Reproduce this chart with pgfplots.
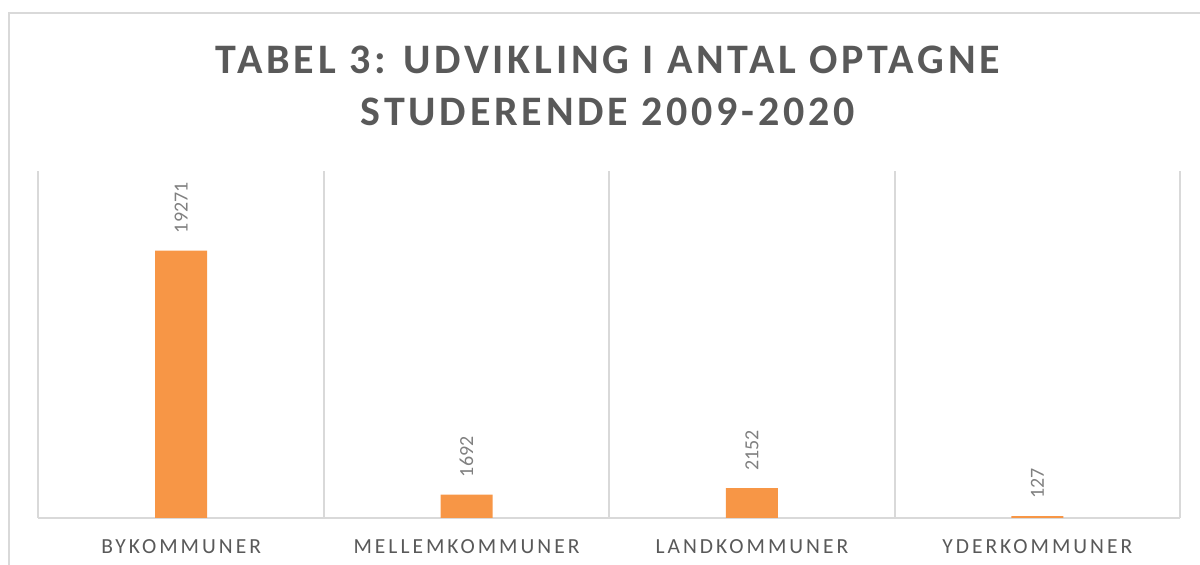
\documentclass[border=0pt]{standalone}
\usepackage{fontspec}
\setmainfont{Carlito}
\newfontfamily\titlefont[LetterSpace=9]{Carlito}
\newfontfamily\catfont[LetterSpace=14]{Carlito}
\usepackage{pgfplots}
\pgfplotsset{compat=1.18}
\definecolor{barc}{HTML}{F79646}
\definecolor{gridc}{HTML}{D9D9D9}
\definecolor{txt}{HTML}{595959}
\definecolor{lbl}{HTML}{808080}
\begin{document}
\begin{tikzpicture}[x=1pt,y=1pt]
\useasboundingbox (0,0) rectangle (600,282.5);
\draw[gridc, line width=1pt] (4.5,-5) -- (4.5,276) -- (605,276);
\node[anchor=base, text=txt, font=\titlefont\bfseries\fontsize{21}{25}\selectfont, inner sep=0pt] at (304,245.5) {TABEL 3: UDVIKLING I ANTAL OPTAGNE};
\node[anchor=base, text=txt, font=\titlefont\bfseries\fontsize{21}{25}\selectfont, inner sep=0pt] at (304,219.5) {STUDERENDE 2009-2020};
\begin{axis}[
  at={(19.25pt,23.5pt)}, anchor=south west,
  scale only axis, width=570.75pt, height=173.5pt,
  ymin=0, ymax=25000, xmin=-0.5, xmax=3.5,
  ybar, bar width=26pt,
  axis x line*=bottom, axis y line=none,
  x axis line style={gridc, line width=1pt, -},
  xtick={0,1,2,3},
  xticklabels={BYKOMMUNER,MELLEMKOMMUNER,LANDKOMMUNER,YDERKOMMUNER},
  major tick length=0pt,
  minor xtick={-0.5,0.5,1.5,2.5,3.5}, minor tick length=0pt,
  xminorgrids, minor grid style={gridc, line width=1pt},
  xticklabel style={font=\catfont\fontsize{10.75}{12}\selectfont, text=txt, anchor=north, inner sep=0pt, yshift=-10.5pt},
  /pgf/number format/assume math mode=true,
  /pgf/number format/1000 sep={},
  nodes near coords,
  nodes near coords style={font=\fontsize{10}{12}\selectfont, text=lbl, rotate=90, anchor=west, inner xsep=8.5pt, inner ysep=0pt},
]
\addplot[fill=barc, draw=none] coordinates {(0,19271) (1,1692) (2,2152) (3,127)};
\end{axis}
\end{tikzpicture}
\end{document}
